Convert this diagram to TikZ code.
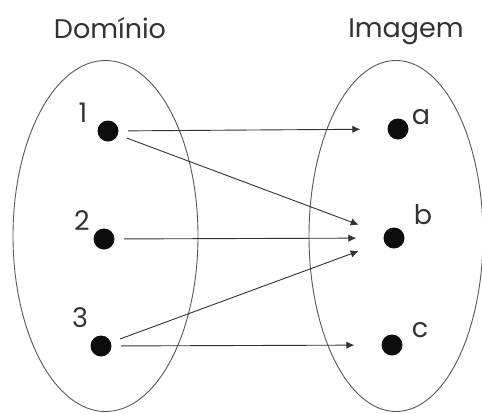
\documentclass[tikz,border=0pt]{standalone}
\usepackage{fontspec}
\setmainfont{Poppins}
\usetikzlibrary{arrows.meta}
\begin{document}
\begin{tikzpicture}[x=1pt,y=-1pt,
  dot/.style={circle,fill=black!95,inner sep=0pt,minimum size=21pt},
  lbl/.style={font=\fontsize{27}{27}\selectfont,text=black!80,inner sep=0pt,anchor=base},
  conn/.style={-{Latex[length=8pt,width=7.5pt]},draw=black!80,line width=0.9pt,shorten <=9.5pt,shorten >=27pt},
  setline/.style={draw=black!65,line width=0.9pt}]
\useasboundingbox (0,0) rectangle (482,413);
\clip (0,0) rectangle (482,413);
\fill[white] (0,0) rectangle (482,413);
% sets
\draw[setline] (105.5,236) ellipse [x radius=92.5, y radius=175.5];
\draw[setline] (396,236) ellipse [x radius=87, y radius=175.5];
% titles
\node[lbl] (dom) at (110,38) {Domínio};
\node[lbl] (img) at (406,37) {Imagem};
% elements
\node[dot] (d1) at (108,131) {};
\node[dot] (d2) at (104,239) {};
\node[dot] (d3) at (101,346) {};
\node[dot] (ia) at (398,129) {};
\node[dot] (ib) at (394,238) {};
\node[dot] (ic) at (392,345) {};
% labels
\node[lbl] (l1) at (83,122) {1};
\node[lbl] (l2) at (82,230) {2};
\node[lbl] (l3) at (80,327) {3};
\node[lbl] (la) at (421,124) {a};
\node[lbl] (lb) at (423,224) {b};
\node[lbl] (lc) at (420,337) {c};
% mapping
\draw[conn] (d1) -- (ia);
\draw[conn] (d1) -- (ib);
\draw[conn] (d2) -- (ib);
\draw[conn] (d3) -- (ib);
\draw[conn] (d3) -- (ic);
\end{tikzpicture}
\end{document}
